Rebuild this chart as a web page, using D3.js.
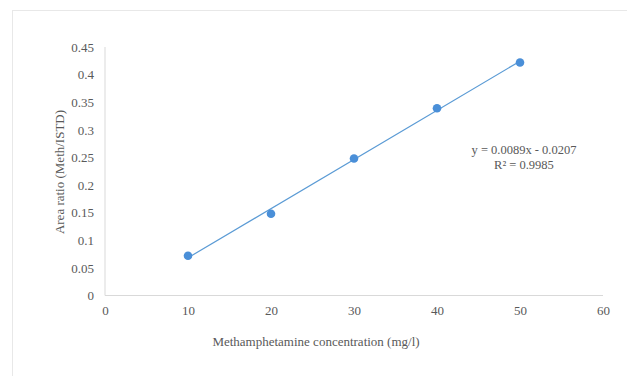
<!DOCTYPE html>
<html><head><meta charset="utf-8">
<script src="https://cdn.jsdelivr.net/npm/d3@7"></script>
<style>body{margin:0;background:#fff;}svg{display:block;}</style>
</head><body>
<svg id="c" width="627" height="376"></svg>
<script>
const concentrations = [10, 20, 30, 40, 50];
const areaRatios = [0.072, 0.148, 0.248, 0.339, 0.422];
const xTicks = [0, 10, 20, 30, 40, 50, 60];
const yTicks = [0, 0.05, 0.1, 0.15, 0.2, 0.25, 0.3, 0.35, 0.4, 0.45];
const slope = 0.0089, intercept = -0.0207;
const eqLabel = "y = 0.0089x - 0.0207";
const r2Label = "R² = 0.9985";

const svg = d3.select("#c");
const font = "'Liberation Serif','Times New Roman',serif";
const txt = "#595959";

svg.append("rect").attr("x",12.5).attr("y",10.5).attr("width",640).attr("height",400)
  .attr("fill","#fff").attr("stroke","#e8e8e8");

const x = d3.scaleLinear().domain([0,60]).range([105,603]);
const y = d3.scaleLinear().domain([0,0.45]).range([295.5,47]);

svg.append("line").attr("x1",x(0)).attr("x2",x(60)).attr("y1",y(0)).attr("y2",y(0)).attr("stroke","#d9d9d9");
svg.append("line").attr("x1",x(0)).attr("x2",x(0)).attr("y1",y(0)).attr("y2",y(0.45)).attr("stroke","#d9d9d9");

const xa = svg.append("g").attr("transform",`translate(0,${y(0)})`)
  .call(d3.axisBottom(x).tickValues(xTicks).tickSize(0).tickPadding(10).tickFormat(d3.format("d")));
const ya = svg.append("g").attr("transform",`translate(${x(0)},0)`)
  .call(d3.axisLeft(y).tickValues(yTicks).tickSize(0).tickPadding(11).tickFormat(d=>String(+d.toFixed(2))));
[xa,ya].forEach(g=>{
  g.select(".domain").remove();
  g.selectAll("text").attr("font-family",font).attr("font-size",13).attr("fill",txt);
});

svg.append("line")
  .attr("x1",x(concentrations[0])).attr("y1",y(slope*concentrations[0]+intercept))
  .attr("x2",x(concentrations[concentrations.length-1])).attr("y2",y(slope*concentrations[concentrations.length-1]+intercept))
  .attr("stroke","#5b9bd5").attr("stroke-width",1.2);

svg.selectAll("circle").data(concentrations).join("circle")
  .attr("cx",d=>x(d)).attr("cy",(d,i)=>y(areaRatios[i])).attr("r",4.3).attr("fill","#4a8fd8");

svg.append("text").attr("x",524).attr("y",154).attr("text-anchor","middle")
  .attr("font-family",font).attr("font-size",12.5).attr("fill",txt).text(eqLabel);
svg.append("text").attr("x",524).attr("y",168.5).attr("text-anchor","middle")
  .attr("font-family",font).attr("font-size",12.5).attr("fill",txt).text(r2Label);

svg.append("text").attr("x",316).attr("y",346).attr("text-anchor","middle")
  .attr("font-family",font).attr("font-size",13).attr("fill",txt).text("Methamphetamine concentration (mg/l)");
svg.append("text").attr("transform","translate(64,172) rotate(-90)").attr("text-anchor","middle")
  .attr("font-family",font).attr("font-size",13).attr("fill",txt).text("Area ratio (Meth/ISTD)");
</script>
</body></html>
